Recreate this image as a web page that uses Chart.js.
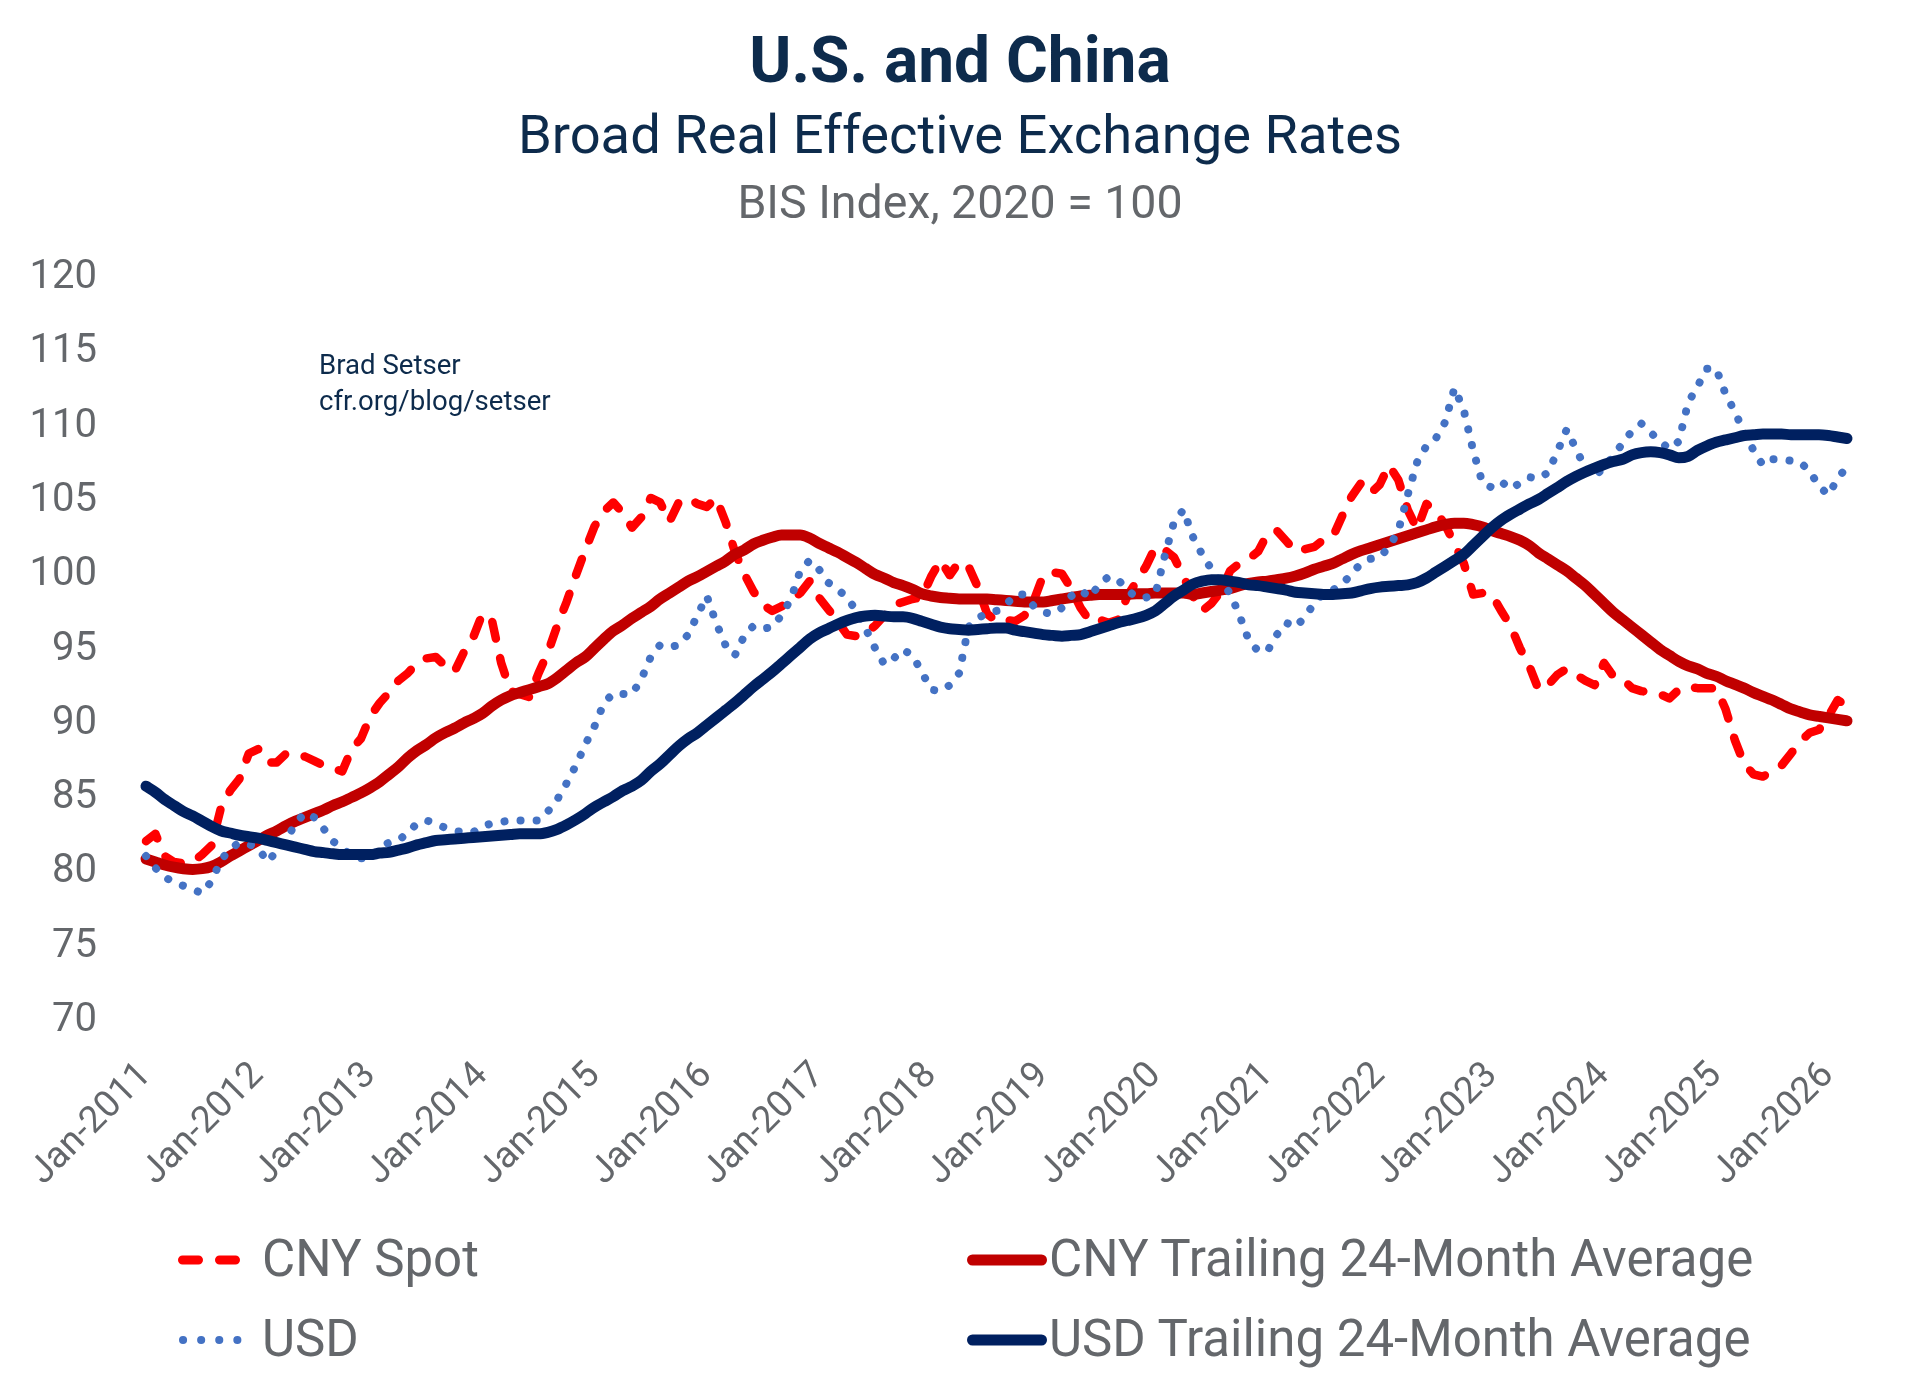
<!DOCTYPE html>
<html>
<head>
<meta charset="utf-8">
<title>U.S. and China - Broad Real Effective Exchange Rates</title>
<script src="https://cdn.jsdelivr.net/npm/chart.js@4.4.1/dist/chart.umd.min.js"></script>
<style>
  html, body { margin: 0; padding: 0; background: #fff; }
  #page { position: relative; width: 1920px; height: 1393px; overflow: hidden; font-family: Roboto, "Noto Sans", sans-serif; }
  #chart { position: absolute; left: 0; top: 0; }
  .txt { position: absolute; white-space: nowrap; line-height: 1; }
  .center { left: 0; width: 1920px; text-align: center; }
  #title { top: 29px; font-size: 64px; font-weight: 700; color: #0d2b4c; }
  #subtitle { top: 108px; font-size: 54.3px; color: #0d2b4c; }
  #unit { top: 179px; font-size: 46.5px; color: #64676b; }
  #credit { left: 319px; top: 347px; font-size: 27.6px; line-height: 36px; color: #0d2b4c; }
  .leg { font-size: 51px; color: #64676b; }
  #legend-marks { position: absolute; left: 0; top: 0; }
</style>
</head>
<body>
<div id="page">
  <canvas id="chart" width="1920" height="1393"></canvas>
  <div id="title" class="txt center">U.S. and China</div>
  <div id="subtitle" class="txt center">Broad Real Effective Exchange Rates</div>
  <div id="unit" class="txt center">BIS Index, 2020 = 100</div>
  <div id="credit" class="txt">Brad Setser<br>cfr.org/blog/setser</div>

  <svg id="legend-marks" width="1920" height="1393">
    <path d="M182.5 1260 H235.5" stroke="#FF0000" stroke-width="9" stroke-linecap="round" stroke-dasharray="16 21" fill="none"/>
    <path d="M183 1340 H238" stroke="#4472C4" stroke-width="8" stroke-linecap="round" stroke-dasharray="0.1 18" fill="none"/>
    <path d="M972.5 1260 H1041.5" stroke="#C00000" stroke-width="11" stroke-linecap="round" fill="none"/>
    <path d="M972.5 1340 H1041.5" stroke="#002060" stroke-width="11" stroke-linecap="round" fill="none"/>
  </svg>
  <div class="txt leg" style="left:262px; top:1233px;">CNY Spot</div>
  <div class="txt leg" style="left:262px; top:1313px;">USD</div>
  <div class="txt leg" style="left:1049px; top:1233px;">CNY Trailing 24-Month Average</div>
  <div class="txt leg" style="left:1049px; top:1313px;">USD Trailing 24-Month Average</div>
</div>

<script>
// ===================== DATA =====================
const monthNames = ["Jan", "Feb", "Mar", "Apr", "May", "Jun", "Jul", "Aug", "Sep", "Oct", "Nov", "Dec"];
const firstYear = 2011;
const monthCount = 183; // Jan-2011 .. Mar-2026

const tickLabels = [
  "Jan-2011", "Jan-2012", "Jan-2013", "Jan-2014", "Jan-2015", "Jan-2016", "Jan-2017", "Jan-2018",
  "Jan-2019", "Jan-2020", "Jan-2021", "Jan-2022", "Jan-2023", "Jan-2024", "Jan-2025", "Jan-2026",
];

const yMin = 70, yMax = 120, yStep = 5;

// one row per year
const cnySpot = [
  82.1, 82.6, 81.1, 80.7, 80.6, 80.7, 81.2, 81.8, 84.3, 85.5, 86.3, 88.0,
  88.3, 87.4, 87.4, 88.0, 87.9, 87.8, 87.5, 87.2, 87.0, 86.8, 88.3, 89.0,
  90.5, 91.4, 92.1, 92.9, 93.4, 94.1, 94.4, 94.5, 93.9, 93.5, 94.8, 95.8,
  97.4, 97.0, 94.1, 92.2, 92.0, 91.8, 93.4, 94.8, 96.6, 98.2, 100.0, 101.7,
  103.3, 104.3, 104.9, 104.2, 103.2, 103.9, 105.2, 104.9, 103.6, 104.9, 105.2, 104.8,
  104.6, 105.2, 103.6, 101.6, 100.1, 98.9, 98.0, 97.6, 97.9, 98.3, 98.8, 99.6,
  98.5, 97.7, 96.9, 96.0, 95.9, 96.1, 96.6, 97.3, 98.0, 98.2, 98.4, 98.5,
  99.9, 101.0, 100.0, 100.9, 100.6, 99.2, 97.4, 96.9, 97.0, 96.9, 97.3, 98.3,
  100.0, 100.2, 100.1, 99.1, 97.8, 96.9, 97.0, 96.8, 97.0, 98.6, 99.6, 100.6,
  101.9, 101.7, 101.2, 99.9, 98.6, 97.6, 98.1, 98.9, 100.3, 100.8, 101.1, 101.6,
  102.8, 103.0, 102.3, 101.6, 101.75, 101.9, 102.4, 102.6, 104.0, 105.3, 106.2, 105.5,
  106.1, 107.4, 106.4, 104.4, 103.1, 104.8, 104.3, 103.4, 102.1, 100.8, 98.7, 98.8,
  98.7, 97.6, 96.6, 95.1, 93.9, 92.3, 92.6, 93.3, 93.7, 93.3, 92.9, 92.6,
  94.1, 93.2, 93.0, 92.4, 92.2, 92.1, 92.0, 91.7, 92.3, 92.5, 92.4, 92.4,
  92.4, 91.0, 88.9, 87.3, 86.6, 86.45, 86.8, 87.2, 88.0, 88.8, 89.4, 89.6,
  90.5, 91.6, 91.2,
];

const cnyAvg24 = [
  80.9, 80.7, 80.5, 80.35, 80.25, 80.2, 80.25, 80.4, 80.7, 81.1, 81.45, 81.8,
  82.15, 82.5, 82.8, 83.15, 83.45, 83.7, 83.95, 84.2, 84.5, 84.75, 85.05, 85.35,
  85.7, 86.1, 86.6, 87.1, 87.7, 88.2, 88.6, 89.05, 89.4, 89.7, 90.05, 90.35,
  90.7, 91.2, 91.6, 91.9, 92.1, 92.3, 92.5, 92.7, 93.1, 93.6, 94.1, 94.5,
  95.1, 95.7, 96.25, 96.65, 97.1, 97.5, 97.9, 98.4, 98.8, 99.2, 99.6, 99.9,
  100.25, 100.6, 100.95, 101.4, 101.7, 102.1, 102.35, 102.55, 102.7, 102.7, 102.7, 102.5,
  102.15, 101.85, 101.55, 101.2, 100.85, 100.45, 100.05, 99.8, 99.5, 99.3, 99.05, 98.75,
  98.6, 98.5, 98.45, 98.4, 98.4, 98.4, 98.4, 98.35, 98.3, 98.25, 98.2, 98.2,
  98.2, 98.3, 98.4, 98.5, 98.6, 98.65, 98.7, 98.7, 98.7, 98.7, 98.75, 98.75,
  98.8, 98.8, 98.8, 98.8, 98.7, 98.8, 98.9, 99.0, 99.1, 99.3, 99.45, 99.55,
  99.6, 99.7, 99.8, 99.95, 100.15, 100.4, 100.6, 100.8, 101.1, 101.4, 101.65, 101.85,
  102.05, 102.25, 102.45, 102.65, 102.85, 103.05, 103.25, 103.4, 103.5, 103.5, 103.4, 103.25,
  103.0, 102.8, 102.6, 102.35, 102.0, 101.5, 101.1, 100.7, 100.3, 99.8, 99.3, 98.7,
  98.1, 97.5, 97.0, 96.5, 96.0, 95.5, 95.0, 94.6, 94.2, 93.9, 93.7, 93.4,
  93.2, 92.9, 92.65, 92.4, 92.1, 91.85, 91.6, 91.3, 91.0, 90.8, 90.6, 90.5,
  90.4, 90.3, 90.2,
];

const usdSpot = [
  81.1, 80.3, 79.7, 79.3, 79.1, 78.85, 78.6, 79.4, 80.8, 81.6, 82.0, 81.9,
  81.65, 80.7, 81.45, 82.2, 83.3, 84.0, 83.7, 82.95, 82.1, 81.6, 81.15, 80.95,
  80.95, 81.7, 82.0, 82.15, 82.65, 83.3, 83.5, 83.3, 83.0, 82.8, 82.7, 82.7,
  83.1, 83.3, 83.4, 83.5, 83.5, 83.5, 83.5, 84.1, 84.9, 86.0, 87.2, 88.6,
  89.85, 91.4, 92.05, 92.0, 92.0, 93.0, 94.5, 95.3, 95.15, 95.3, 96.0, 97.3,
  98.6, 96.8, 95.3, 94.6, 95.9, 96.6, 96.4, 96.5, 97.3, 98.4, 100.3, 101.0,
  100.4, 99.5, 99.05, 98.5, 97.6, 96.4, 95.1, 94.0, 94.4, 95.0, 94.6, 93.5,
  92.3, 92.2, 92.6, 93.4, 96.5, 97.1, 97.45, 97.6, 98.0, 98.7, 98.7, 97.9,
  97.5, 97.4, 97.8, 98.6, 99.0, 98.5, 99.4, 99.9, 99.7, 99.0, 98.5, 98.5,
  98.7, 101.3, 103.6, 104.4, 102.6, 101.4, 100.4, 99.5, 98.8, 97.3, 95.6, 94.9,
  94.9, 96.0, 96.8, 96.5, 97.2, 98.1, 98.8, 99.0, 99.4, 100.1, 100.8, 101.1,
  101.2, 101.9, 103.0, 105.4, 107.6, 108.7, 109.2, 110.3, 112.6, 111.1, 108.4, 106.2,
  105.9, 106.3, 105.8, 106.2, 106.6, 106.5, 106.9, 108.3, 109.8, 108.5, 107.2, 106.6,
  107.3, 108.0, 108.9, 109.7, 110.2, 109.6, 109.0, 108.5, 109.0, 111.6, 112.7, 113.9,
  113.9, 112.2, 111.0, 109.6, 108.4, 107.4, 107.8, 107.8, 107.7, 107.6, 107.0, 106.0,
  105.4, 106.5, 107.3,
];

const usdAvg24 = [
  85.8, 85.4, 84.9, 84.5, 84.1, 83.8, 83.45, 83.1, 82.8, 82.65, 82.5, 82.4,
  82.3, 82.15, 82.0, 81.85, 81.7, 81.55, 81.4, 81.33, 81.25, 81.2, 81.2, 81.2,
  81.2, 81.3, 81.35, 81.5, 81.65, 81.85, 82.0, 82.15, 82.2, 82.25, 82.3, 82.35,
  82.4, 82.45, 82.5, 82.55, 82.6, 82.6, 82.6, 82.7, 82.9, 83.2, 83.55, 83.95,
  84.4, 84.75, 85.1, 85.5, 85.8, 86.2, 86.8, 87.3, 87.9, 88.5, 89.0, 89.4,
  89.9, 90.4, 90.9, 91.4, 91.95, 92.5, 93.0, 93.5, 94.05, 94.6, 95.15, 95.7,
  96.1, 96.4, 96.7, 96.95, 97.15, 97.25, 97.3, 97.25, 97.2, 97.2, 97.1, 96.9,
  96.7, 96.5, 96.4, 96.35, 96.3, 96.35, 96.4, 96.45, 96.45, 96.3, 96.2, 96.1,
  96.0, 95.95, 95.9, 95.95, 96.0, 96.2, 96.4, 96.6, 96.8, 96.95, 97.1, 97.3,
  97.6, 98.1, 98.6, 99.0, 99.4, 99.6, 99.7, 99.7, 99.6, 99.5, 99.35, 99.3,
  99.2, 99.1, 99.0, 98.85, 98.8, 98.75, 98.7, 98.7, 98.75, 98.8, 98.95, 99.1,
  99.2, 99.25, 99.3, 99.35, 99.5, 99.8, 100.2, 100.6, 101.0, 101.4, 102.0, 102.6,
  103.2, 103.7, 104.1, 104.45, 104.8, 105.1, 105.5, 105.9, 106.3, 106.65, 106.95, 107.2,
  107.45, 107.65, 107.8, 108.1, 108.25, 108.3, 108.25, 108.1, 107.9, 108.0, 108.4, 108.7,
  108.95, 109.1, 109.25, 109.4, 109.45, 109.5, 109.5, 109.5, 109.45, 109.45, 109.45, 109.45,
  109.4, 109.3, 109.2,
];

// category labels: "Jan-2011", "Feb-2011", ...
const categories = [];
for (let i = 0; i < monthCount; i++) {
  categories.push(monthNames[i % 12] + "-" + (firstYear + Math.floor(i / 12)));
}

// ===================== CHART =====================
const gray = "#64676b";

function drawChart() {
  new Chart(document.getElementById("chart"), {
    type: "line",
    data: {
      labels: categories,
      datasets: [
        {
          label: "CNY Spot",
          data: cnySpot,
          borderColor: "#FF0000",
          borderWidth: 8.5,
          borderDash: [17, 20],
          borderCapStyle: "round",
          borderJoinStyle: "round",
          pointRadius: 0,
          tension: 0,
          order: 4,
          clip: false,
        },
        {
          label: "CNY Trailing 24-Month Average",
          data: cnyAvg24,
          borderColor: "#C00000",
          borderWidth: 11,
          borderCapStyle: "round",
          borderJoinStyle: "round",
          pointRadius: 0,
          cubicInterpolationMode: "monotone",
          order: 3,
          clip: false,
        },
        {
          label: "USD",
          data: usdSpot,
          borderColor: "#4472C4",
          borderWidth: 8,
          borderDash: [0.1, 16],
          borderCapStyle: "round",
          borderJoinStyle: "round",
          pointRadius: 0,
          tension: 0,
          order: 2,
          clip: false,
        },
        {
          label: "USD Trailing 24-Month Average",
          data: usdAvg24,
          borderColor: "#002060",
          borderWidth: 11,
          borderCapStyle: "round",
          borderJoinStyle: "round",
          pointRadius: 0,
          cubicInterpolationMode: "monotone",
          order: 1,
          clip: false,
        },
      ],
    },
    options: {
      responsive: false,
      animation: false,
      devicePixelRatio: 1,
      events: [],
      layout: { padding: { top: 278, right: 73, bottom: 172, left: 0 } },
      plugins: {
        legend: { display: false },
        title: { display: false },
        tooltip: { enabled: false },
      },
      scales: {
        x: {
          grid: { display: false, drawTicks: false },
          border: { display: false },
          ticks: {
            autoSkip: false,
            maxRotation: 45,
            minRotation: 45,
            padding: 33,
            color: gray,
            font: { family: "Roboto", size: 37 },
            callback: (v, i) => (tickLabels.includes(categories[i]) ? categories[i] : ""),
          },
          afterFit: (s) => { s.height = 200; },
        },
        y: {
          min: yMin,
          max: yMax,
          grid: { display: false, drawTicks: false },
          border: { display: false },
          ticks: {
            stepSize: yStep,
            padding: 49,
            color: gray,
            font: { family: "Roboto", size: 40 },
          },
          afterFit: (s) => { s.width = 146; },
        },
      },
    },
  });
}

if (document.fonts && document.fonts.ready) {
  document.fonts.ready.then(drawChart);
} else {
  drawChart();
}
</script>
</body>
</html>
